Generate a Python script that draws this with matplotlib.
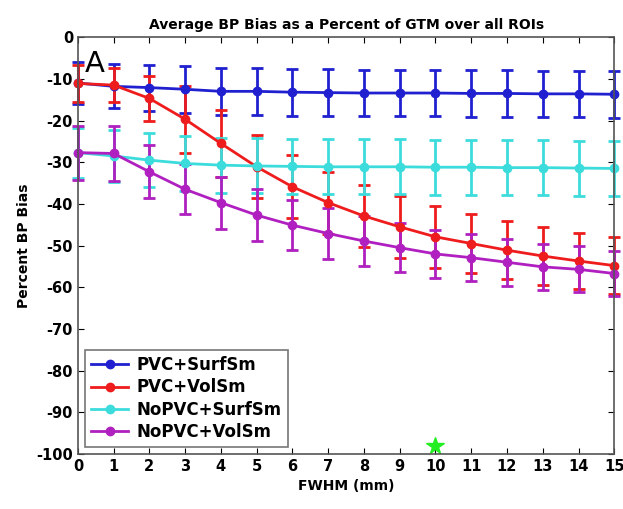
import matplotlib.pyplot as plt
from matplotlib.lines import Line2D
import numpy as np

plt.rcParams['axes.unicode_minus'] = False

fwhm = list(range(16))

# PVC + surface smoothing
pvc_surf = [-11, -11.8, -12.1, -12.5, -13, -13, -13.2, -13.3, -13.4, -13.4, -13.4, -13.5, -13.5, -13.6, -13.6, -13.7]
pvc_surf_err = [5, 5.3, 5.5, 5.6, 5.6, 5.6, 5.6, 5.6, 5.6, 5.6, 5.6, 5.6, 5.6, 5.6, 5.6, 5.6]

# PVC + volume smoothing
pvc_vol = [-11.1, -11.5, -14.7, -19.7, -25.5, -31.1, -35.9, -39.7, -42.9, -45.5, -47.9, -49.5, -51.1, -52.5, -53.7, -54.8]
pvc_vol_err = [4.5, 4, 5.4, 8, 8, 7.6, 7.6, 7.4, 7.4, 7.4, 7.4, 7, 7, 6.9, 6.8, 6.8]

# no PVC + surface smoothing
nopvc_surf = [-27.7, -28.5, -29.5, -30.3, -30.7, -30.9, -31, -31.1, -31.1, -31.1, -31.2, -31.2, -31.3, -31.3, -31.4, -31.5]
nopvc_surf_err = [6, 6.3, 6.5, 6.5, 6.6, 6.6, 6.6, 6.6, 6.6, 6.6, 6.6, 6.6, 6.6, 6.6, 6.6, 6.6]

# no PVC + volume smoothing
nopvc_vol = [-27.7, -27.9, -32.3, -36.5, -39.7, -42.7, -45.1, -47.1, -48.9, -50.5, -52, -52.9, -54, -55.1, -55.7, -56.7]
nopvc_vol_err = [6.5, 6.7, 6.4, 6, 6.2, 6.2, 6, 6, 6, 5.8, 5.7, 5.7, 5.7, 5.5, 5.5, 5.5]

labels = ['PVC+SurfSm', 'PVC+VolSm', 'NoPVC+SurfSm', 'NoPVC+VolSm']
colors = ['#2020d0', '#ee1c1c', '#3cdcdc', '#b020c0']

star_x, star_y = 10, -98

fig = plt.figure(figsize=(6.23, 5.09), dpi=100)
ax = fig.add_axes([0.125, 0.108, 0.861, 0.819])

series = [(pvc_surf, pvc_surf_err), (pvc_vol, pvc_vol_err),
          (nopvc_surf, nopvc_surf_err), (nopvc_vol, nopvc_vol_err)]
handles = []
for (vals, errs), lab, c in zip(series, labels, colors):
    ax.errorbar(fwhm, vals, yerr=errs, color=c, lw=2, marker='o', ms=6,
                capsize=4, capthick=2, elinewidth=2, clip_on=False)
    handles.append(Line2D([], [], color=c, lw=2, marker='o', ms=6, label=lab))

ax.plot(star_x, star_y, marker='*', color='#22ee22', ms=13, clip_on=False)

ax.set_xlim(0, 15)
ax.set_ylim(-100, 0)
ax.set_xticks(np.arange(0, 16, 1))
ax.set_yticks(np.arange(-100, 1, 10))
ax.tick_params(direction='in', top=True, right=True, length=4, labelsize=10.5)
for lbl in ax.get_xticklabels() + ax.get_yticklabels():
    lbl.set_fontweight('bold')
for s in ax.spines.values():
    s.set_color('#555555')
    s.set_linewidth(1.2)

ax.set_title('Average BP Bias as a Percent of GTM over all ROIs', fontsize=10, fontweight='bold')
ax.set_xlabel('FWHM (mm)', fontsize=10, fontweight='bold')
ax.set_ylabel('Percent BP Bias', fontsize=10, fontweight='bold')
ax.text(0.2, -3, 'A', fontsize=21, va='top')

leg = ax.legend(handles=handles, loc='lower left',
                prop={'weight': 'bold', 'size': 12},
                fancybox=False, edgecolor='#555555', handlelength=2.2,
                borderaxespad=0.4, labelspacing=0.25, handletextpad=0.5)
leg.get_frame().set_linewidth(1.2)

fig.savefig('out.png', dpi=100)
